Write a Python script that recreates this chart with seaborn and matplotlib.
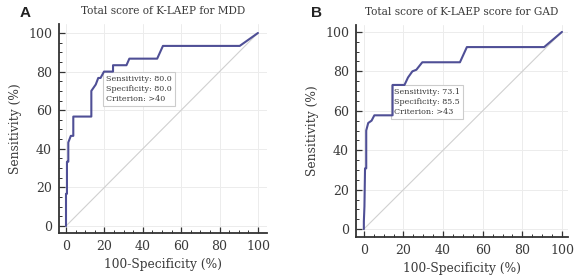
import matplotlib
matplotlib.use("Agg")
import matplotlib.pyplot as plt
import seaborn as sns
import pandas as pd
from matplotlib.ticker import MultipleLocator

# ---- data ----
mdd_fpr = [0, 0, 0.5, 0.5, 1.2, 1.2, 2.5, 3.8, 3.8, 13.2, 13.2, 15.5, 16.8, 18.0, 19.8,
           24.5, 24.5, 31.5, 33.0, 47.5, 50.5, 90.5, 100]
mdd_tpr = [0, 16.7, 16.7, 33.3, 33.3, 43.3, 46.7, 46.7, 56.7, 56.7, 70.0, 73.3, 76.7, 76.7, 80.0,
           80.0, 83.3, 83.3, 86.7, 86.7, 93.3, 93.3, 100]
gad_fpr = [0, 0, 0.3, 0.6, 1.2, 1.2, 2.2, 3.9, 5.3, 14.5, 14.5, 20.5, 22.3, 24.5, 26.5,
           29.5, 48.5, 52.0, 91.0, 100]
gad_tpr = [0, 3.8, 11.5, 30.8, 30.8, 50.0, 53.8, 55.0, 57.7, 57.7, 73.1, 73.1, 76.9, 80.0, 80.8,
           84.6, 84.6, 92.3, 92.3, 100]

titles = ["Total score of K-LAEP for MDD", "Total score of K-LAEP score for GAD"]
panel_labels = ["A", "B"]
box_texts = ["Sensitivity: 80.0\nSpecificity: 80.0\nCriterion: >40",
             "Sensitivity: 73.1\nSpecificity: 85.5\nCriterion: >43"]
box_pos = [(21.0, 78.0), (15.3, 71.5)]
ticks = [0, 20, 40, 60, 80, 100]

sns.set_style("whitegrid")
plt.rcParams['font.family'] = ['DejaVu Serif']

fig = plt.figure(figsize=(5.75, 2.78), dpi=100)
axA = fig.add_axes([0.1026, 0.162, 0.3617, 0.752])
axB = fig.add_axes([0.619, 0.1475, 0.3687, 0.7626])

text_col = "#3a3a3a"
line_col = "#4f4f96"
lims = [((-3.65, 104.7), (-3.6, 104.7)), ((-4.0, 103.0), (-4.0, 103.5))]

data = [(mdd_fpr, mdd_tpr), (gad_fpr, gad_tpr)]
for i, ax in enumerate([axA, axB]):
    fpr, tpr = data[i]
    df = pd.DataFrame({"fpr": fpr, "tpr": tpr})
    ax.plot([0, 100], [0, 100], color="#d0d0d0", lw=0.8, zorder=1)
    sns.lineplot(data=df, x="fpr", y="tpr", sort=False, estimator=None,
                 color=line_col, lw=1.5, ax=ax, zorder=6)
    ax.set_xlim(*lims[i][0])
    ax.set_ylim(*lims[i][1])
    ax.set_xticks(ticks)
    ax.set_yticks(ticks)
    ax.xaxis.set_minor_locator(MultipleLocator(5))
    ax.yaxis.set_minor_locator(MultipleLocator(5))
    ax.tick_params(which="major", direction="in", length=4, width=0.9, color="#333333",
                   labelsize=9, labelcolor=text_col, pad=5, bottom=True, left=True)
    ax.tick_params(which="minor", direction="in", length=2.5, width=0.7, color="#333333",
                   bottom=True, left=True)
    ax.grid(True, which="major", color="#ececec", lw=0.7)
    ax.grid(False, which="minor")
    for s in ["top", "right"]:
        ax.spines[s].set_visible(False)
    for s in ["left", "bottom"]:
        ax.spines[s].set_visible(True)
        ax.spines[s].set_color("#333333")
        ax.spines[s].set_linewidth(1.3)
    ax.set_facecolor("white")
    ax.set_xlabel("100-Specificity (%)", fontsize=8.8, color=text_col, labelpad=4)
    ax.set_ylabel("Sensitivity (%)", fontsize=8.8, color=text_col, labelpad=4)
    ax.set_title(titles[i], fontsize=7.6, color=text_col, pad=7)
    ax.text(box_pos[i][0], box_pos[i][1], box_texts[i], ha="left", va="top",
            fontsize=5.8, color=text_col, linespacing=1.3, zorder=5,
            bbox=dict(boxstyle="square,pad=0.4", fc="white", ec="#cccccc", lw=0.8))

fig.text(25 / 575, 1 - 13 / 278, panel_labels[0], fontsize=11, fontweight="bold",
         family="Liberation Sans", ha="center", va="center", color="#222222")
fig.text(316 / 575, 1 - 13 / 278, panel_labels[1], fontsize=11, fontweight="bold",
         family="Liberation Sans", ha="center", va="center", color="#222222")

fig.savefig("out.png", dpi=100, facecolor="white")
